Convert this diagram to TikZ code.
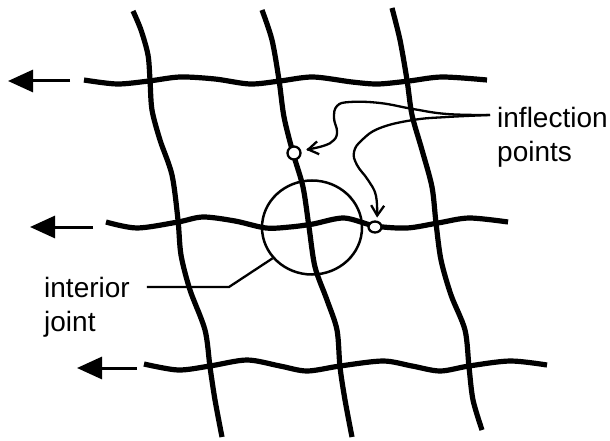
\documentclass[tikz,border=0pt]{standalone}
\usepackage{fontspec}
\setsansfont{Liberation Sans}
\usepackage{tikz}
\usetikzlibrary{arrows.meta,shapes.geometric}

\begin{document}
\begin{tikzpicture}[
  x=1pt, y=-1pt,
  font=\sffamily\fontsize{28}{34}\selectfont,
  wire/.style={line width=5.2pt},
  pull/.style={line width=3pt, -{Triangle[length=25pt,width=22pt]}},
  ring/.style={draw, ellipse, line width=2.5pt, minimum width=100pt, minimum height=94pt, inner sep=0pt},
  infpt/.style={draw, fill=white, line width=2.3pt, inner sep=0pt},
  lead/.style={line width=2.3pt},
  tipped/.style={lead, -{Straight Barb[length=10pt,width=13pt]}},
  lbl/.style={align=left, inner sep=0pt, anchor=north west}
]
\useasboundingbox (0,0) rectangle (610,441);

% ---------------- vertical wires ----------------
\draw[wire] plot[smooth] coordinates {(133,11) (141,30) (148,55) (150,80) (152,110) (160,140) (172,175) (178,220) (181,255) (190,290) (205,330) (210,367) (215,400) (222,437)};
\draw[wire] plot[smooth] coordinates {(262,10) (272,40) (279,80) (284,117) (293,153) (303,187) (309,227) (315,267) (327,300) (337,330) (340,367) (345,400) (352,437)};
\draw[wire] plot[smooth] coordinates {(392,8) (400,40) (407,80) (412,115) (422,150) (432,187) (436,223) (441,260) (451,295) (465,330) (469,367) (473,400) (482,430)};

% ---------------- horizontal wires ----------------
\draw[wire] plot[smooth] coordinates {(84,80) (117,84) (149,81) (180,77) (215,79) (250,84) (280,81) (313,77) (352,82) (378,84) (409,81) (442,77) (487,80)};
\draw[wire] plot[smooth] coordinates {(106,222) (137,228) (178,222) (203,217) (235,221) (266,228) (290,227) (313,224) (344,218) (375,226) (407,228) (438,223) (469,218) (508,222)};
\draw[wire] plot[smooth] coordinates {(144,364) (178,370) (210,366) (247,360) (280,366) (307,371) (340,366) (383,361) (412,366) (440,371) (469,366) (510,361) (547,365)};

% pulling arrows
\draw[pull] (70,81) -- (8,81);
\draw[pull] (93,227) -- (30,227);
\draw[pull] (137,368) -- (77,368);

% ---------------- joint and inflection points ----------------
\node[ring] (jc) at (312,227.5) {};
\node[infpt, circle, minimum size=13pt] (pt1) at (294,153) {};
\node[infpt, ellipse, minimum width=13pt, minimum height=11pt] (pt2) at (375,227) {};

% labels
\node[lbl] (infl) at (497,107) {inflection\\points};
\node[lbl] (ij) at (44,277) {interior\\joint};

% leaders
\coordinate (fork) at ([shift={(-7pt,-8pt)}]infl.north west);
\coordinate (ijs) at ([shift={(17pt,-10pt)}]ij.north east);
\draw[lead] (ijs) -- ++(82,0) -- (jc.218);
\draw[tipped, shorten >=5pt] plot[smooth, tension=0.7] coordinates {(fork) (447,114) (413,109) (380,103) (350,102) (337,106) (334,118) (337,131) (334,140) (323,146) (pt1.18)};
\draw[tipped, shorten >=3pt] plot[smooth, tension=0.7] coordinates {(fork) (447,117) (413,120) (380,128) (362,140) (354,152) (357,165) (368,180) (376,196) (pt2.73)};
\end{tikzpicture}
\end{document}
